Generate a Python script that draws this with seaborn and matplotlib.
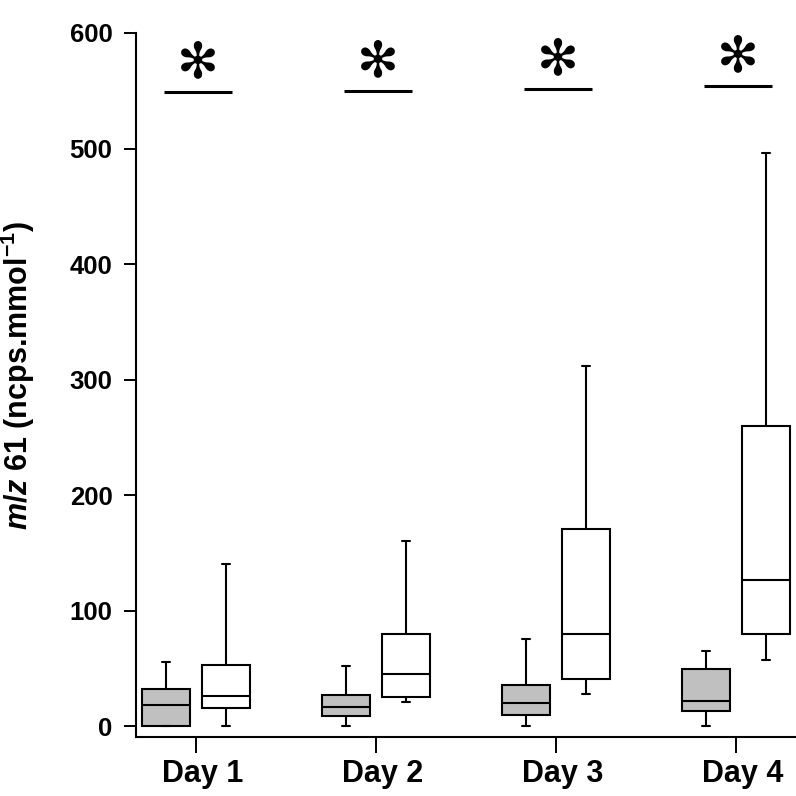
import numpy as np
import pandas as pd
import matplotlib
matplotlib.use("Agg")
import matplotlib.pyplot as plt
import matplotlib.transforms as mtransforms
import seaborn as sns

# ---- data (five-number summaries: min, q1, median, q3, max) ----
days = ["Day 1", "Day 2", "Day 3", "Day 4"]
groups = ["control", "treated"]
control_stats = [
    [0, 0, 18, 32, 55],
    [0, 8.7, 16.7, 26.5, 52],
    [0, 9.2, 20, 35.5, 75.6],
    [0, 12.7, 22, 49, 64.6],
]
treated_stats = [
    [0, 15.8, 26.2, 52.5, 140],
    [21, 24.8, 45, 80, 160],
    [28, 40.4, 80, 170.3, 312],
    [57, 80, 126.4, 259.7, 496],
]
sig_levels = [549, 550, 551.5, 554]
sig_labels = ["✻", "✻", "✻", "✻"]
yticks = [0, 100, 200, 300, 400, 500, 600]

rows = []
for d, cs, ts in zip(days, control_stats, treated_stats):
    for v in cs:
        rows.append({"day": d, "group": groups[0], "value": v})
    for v in ts:
        rows.append({"day": d, "group": groups[1], "value": v})
df = pd.DataFrame(rows)

sns.set_style("ticks")
plt.rcParams["font.family"] = ["Liberation Sans", "DejaVu Sans"]
plt.rcParams["mathtext.fontset"] = "custom"
plt.rcParams["mathtext.it"] = "Liberation Sans:bold:italic"
plt.rcParams["mathtext.rm"] = "Liberation Sans:bold"
plt.rcParams["mathtext.bf"] = "Liberation Sans:bold"
plt.rcParams["text.color"] = "black"
plt.rcParams["axes.labelcolor"] = "black"
plt.rcParams["axes.edgecolor"] = "black"
plt.rcParams["xtick.color"] = "black"
plt.rcParams["ytick.color"] = "black"

fig = plt.figure(figsize=(7.96, 7.96), dpi=100)
ax = fig.add_axes([136 / 796, 1 - 737 / 796, 1 - 136 / 796, (737 - 33) / 796])

sns.boxplot(
    data=df, x="day", y="value", hue="group", ax=ax,
    whis=(0, 100), palette=["#c0c0c0", "white"], linecolor="black",
    linewidth=1.5, width=0.667, gap=0.19, legend=False, saturation=1,
    capwidths=0.045,
)

ax.set_xlim(-0.333, 3.333)
ax.set_ylim(-9.5, 600)
ax.set_yticks(yticks)
ax.set_yticklabels([str(t) for t in yticks], fontsize=18.5, fontweight="bold")
ax.set_xticks(range(len(days)))
ax.set_xticklabels(days, fontsize=22, fontweight="bold")
ax.tick_params(axis="y", direction="out", length=9, width=1.4, pad=8)
ax.tick_params(axis="x", direction="out", length=11.5, width=1.4, pad=4)
offset = mtransforms.ScaledTranslation(7 / 100, 0, fig.dpi_scale_trans)
for lbl in ax.get_xticklabels():
    lbl.set_transform(lbl.get_transform() + offset)
for s in ["top", "right"]:
    ax.spines[s].set_visible(False)
for s in ["left", "bottom"]:
    ax.spines[s].set_linewidth(1.5)
ax.set_xlabel("")
ax.set_ylabel(r"$m/z$ 61 (ncps.mmol$^{-1}$)", fontsize=22, fontweight="bold")
ax.yaxis.set_label_coords(-0.150, 0.514)

for i, (lvl, lab) in enumerate(zip(sig_levels, sig_labels)):
    ax.plot([i - 0.18, i + 0.2], [lvl, lvl], color="black", lw=2.2, solid_capstyle="butt")
    ax.text(i + 0.01, lvl + 25, lab, ha="center", va="center", fontsize=36,
            family=["DejaVu Sans"])

fig.savefig("out.png", dpi=100)
